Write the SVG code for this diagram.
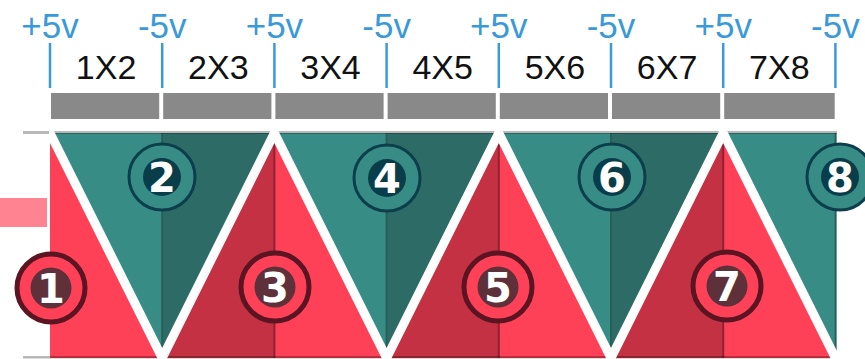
<svg xmlns="http://www.w3.org/2000/svg" width="865" height="359" viewBox="0 0 865 359">
<style>
.v{font-family:"Liberation Sans",Arial,sans-serif;font-size:35px;fill:#3a9ad9;text-anchor:middle}
.p{font-family:"Liberation Sans",Arial,sans-serif;font-size:34px;fill:#111;text-anchor:middle}
.tick{stroke:#3a9ad9;stroke-width:2.5}
.bar{fill:#898989}
.tl{fill:#388c86}.td{fill:#2d6c66}
.rb{fill:#ff4157}.rd{fill:#c43142}
.dt{stroke:#285f59;stroke-width:2}
.dr{stroke:#8e2232;stroke-width:2}
.bt{fill:#388c86;stroke:#0c3f4b;stroke-width:3}
.bti{fill:#0a3d4a}
.br{fill:#ff4157;stroke:#5a1422;stroke-width:5}
.bri{fill:#5e3039}
.n{font-family:"DejaVu Sans",sans-serif;font-weight:bold;font-size:40px;fill:#fff;text-anchor:middle}
</style>
<defs>
<clipPath id="strip"><rect x="49" y="133" width="787.5" height="226"/></clipPath>
<clipPath id="wclip"><rect x="49" y="128" width="788" height="231"/></clipPath>
</defs>
<rect x="0" y="198" width="47" height="29" fill="#ff8391"/>
<g id="labels">
<text class="v" x="50" y="38">+5v</text>
<text class="v" x="162.2" y="38">-5v</text>
<text class="v" x="274.4" y="38">+5v</text>
<text class="v" x="386.6" y="38">-5v</text>
<text class="v" x="498.8" y="38">+5v</text>
<text class="v" x="611" y="38">-5v</text>
<text class="v" x="723.2" y="38">+5v</text>
<text class="v" x="835.4" y="38">-5v</text>
<line class="tick" x1="50" y1="43" x2="50" y2="88"/>
<line class="tick" x1="162.2" y1="43" x2="162.2" y2="88"/>
<line class="tick" x1="274.4" y1="43" x2="274.4" y2="88"/>
<line class="tick" x1="386.6" y1="43" x2="386.6" y2="88"/>
<line class="tick" x1="498.8" y1="43" x2="498.8" y2="88"/>
<line class="tick" x1="611" y1="43" x2="611" y2="88"/>
<line class="tick" x1="723.2" y1="43" x2="723.2" y2="88"/>
<line class="tick" x1="835.4" y1="43" x2="835.4" y2="88"/>
<text class="p" x="106.1" y="79">1X2</text>
<text class="p" x="218.3" y="79">2X3</text>
<text class="p" x="330.5" y="79">3X4</text>
<text class="p" x="442.7" y="79">4X5</text>
<text class="p" x="554.9" y="79">5X6</text>
<text class="p" x="667.1" y="79">6X7</text>
<text class="p" x="779.3" y="79">7X8</text>
</g>
<g id="bars">
<rect class="bar" x="51" y="93" width="108.2" height="26"/>
<rect class="bar" x="163.2" y="93" width="108.2" height="26"/>
<rect class="bar" x="275.4" y="93" width="108.2" height="26"/>
<rect class="bar" x="387.6" y="93" width="108.2" height="26"/>
<rect class="bar" x="499.8" y="93" width="108.2" height="26"/>
<rect class="bar" x="612" y="93" width="108.2" height="26"/>
<rect class="bar" x="724.2" y="93" width="110.5" height="26"/>
</g>
<g id="triangles" clip-path="url(#strip)">
<g id="tri1"><polygon class="rb" points="50,133 162.2,358 50,358"/></g>
<g id="tri2"><polygon class="tl" points="50,133 162.2,133 162.2,358"/><polygon class="td" points="162.2,133 274.4,133 162.2,358"/><line class="dt" x1="162.2" y1="133" x2="162.2" y2="358"/></g>
<g id="tri3"><polygon class="rd" points="274.4,133 274.4,358 162.2,358"/><polygon class="rb" points="274.4,133 386.6,358 274.4,358"/><line class="dr" x1="274.4" y1="133" x2="274.4" y2="358"/></g>
<g id="tri4"><polygon class="tl" points="274.4,133 386.6,133 386.6,358"/><polygon class="td" points="386.6,133 498.8,133 386.6,358"/><line class="dt" x1="386.6" y1="133" x2="386.6" y2="358"/></g>
<g id="tri5"><polygon class="rd" points="498.8,133 498.8,358 386.6,358"/><polygon class="rb" points="498.8,133 611,358 498.8,358"/><line class="dr" x1="498.8" y1="133" x2="498.8" y2="358"/></g>
<g id="tri6"><polygon class="tl" points="498.8,133 611,133 611,358"/><polygon class="td" points="611,133 723.2,133 611,358"/><line class="dt" x1="611" y1="133" x2="611" y2="358"/></g>
<g id="tri7"><polygon class="rd" points="723.2,133 723.2,358 611,358"/><polygon class="rb" points="723.2,133 835.4,358 723.2,358"/><line class="dr" x1="723.2" y1="133" x2="723.2" y2="358"/></g>
<g id="tri8"><polygon class="tl" points="723.2,133 835.4,133 835.4,358"/><polygon class="td" points="835.4,133 947.6,133 835.4,358"/><line class="dt" x1="835.6" y1="133" x2="835.6" y2="358"/></g>
</g>
<g id="rules">
<rect x="23" y="131" width="814" height="3" fill="#000" fill-opacity="0.28"/>
<rect x="23" y="356" width="814" height="2.5" fill="#000" fill-opacity="0.28"/>
</g>
<g id="separators" clip-path="url(#wclip)">
<polyline points="44.4,121.8 50,133 162.2,358 274.4,133 386.6,358 498.8,133 611,358 723.2,133 835.4,358 841,369.2" fill="none" stroke="#fff" stroke-width="9" stroke-linejoin="miter" stroke-miterlimit="10"/>
</g>
<g id="badge1"><circle class="br" cx="51" cy="288" r="34"/><circle class="bri" cx="51" cy="288" r="20.5"/><text class="n" x="51" y="302.5">1</text></g>
<g id="badge2"><circle class="bt" cx="162" cy="177" r="33"/><circle class="bti" cx="162" cy="177" r="19"/><text class="n" x="162" y="191.5">2</text></g>
<g id="badge3"><circle class="br" cx="275" cy="287" r="34"/><circle class="bri" cx="275" cy="287" r="20.5"/><text class="n" x="275" y="301.5">3</text></g>
<g id="badge4"><circle class="bt" cx="387" cy="178" r="33"/><circle class="bti" cx="387" cy="178" r="19"/><text class="n" x="387" y="192.5">4</text></g>
<g id="badge5"><circle class="br" cx="498" cy="287" r="34"/><circle class="bri" cx="498" cy="287" r="20.5"/><text class="n" x="498" y="301.5">5</text></g>
<g id="badge6"><circle class="bt" cx="612" cy="177" r="33"/><circle class="bti" cx="612" cy="177" r="19"/><text class="n" x="612" y="191.5">6</text></g>
<g id="badge7"><circle class="br" cx="727" cy="286" r="34"/><circle class="bri" cx="727" cy="286" r="20.5"/><text class="n" x="727" y="300.5">7</text></g>
<g id="badge8"><circle class="bt" cx="840" cy="177" r="33"/><circle class="bti" cx="840" cy="177" r="19"/><text class="n" x="840" y="191.5">8</text></g>
</svg>
